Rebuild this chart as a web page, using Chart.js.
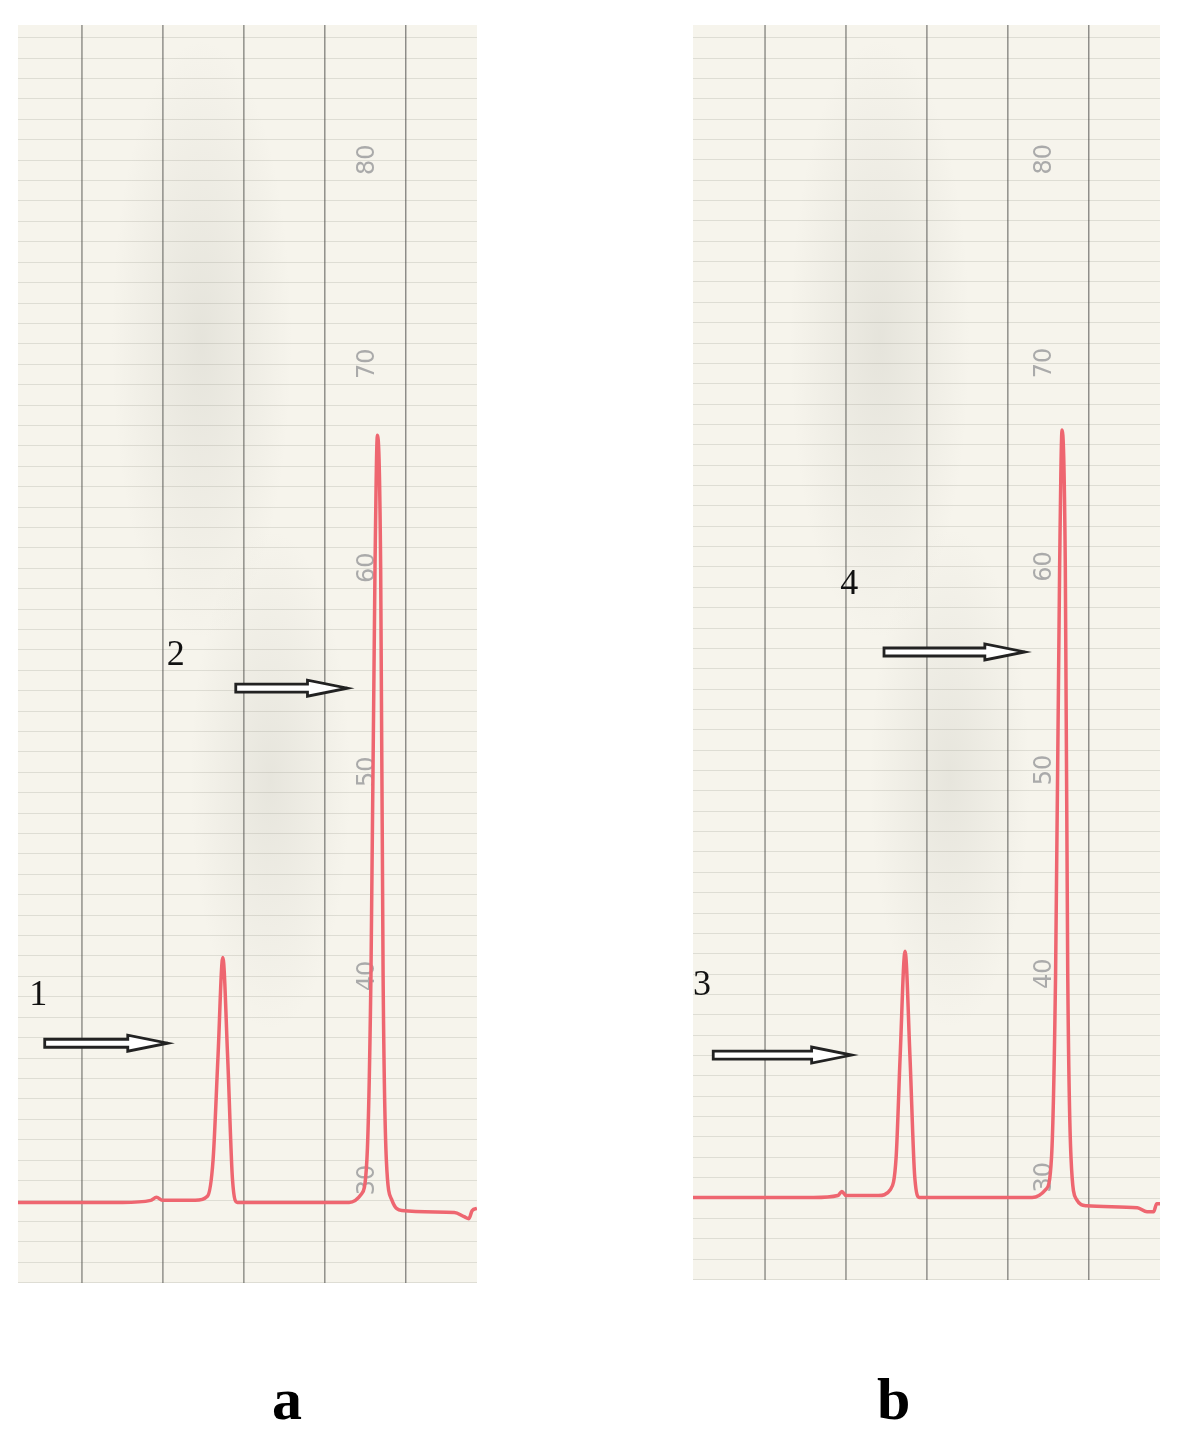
<!DOCTYPE html>
<html>
<head>
<meta charset="utf-8">
<script src="https://cdn.jsdelivr.net/npm/chart.js@4"></script>
<style>
  body { margin:0; background:#fff; width:1180px; height:1452px; position:relative; font-family:"Liberation Serif", serif; }
  .panel { position:absolute; top:25px; height:1258px;
    background:
      radial-gradient(ellipse 90px 300px at 40% 25%, rgba(170,170,160,0.22), transparent),
      radial-gradient(ellipse 80px 250px at 55% 60%, rgba(170,170,160,0.2), transparent),
      #f6f4ec; }
  #pa { left:18px; width:459px; }
  #pb { left:693px; width:467px; height:1255px; }
  .lbl { position:absolute; top:1365px; font-weight:bold; font-size:60px; }
</style>
</head>
<body>
<div class="panel" id="pa"><canvas id="ca"></canvas></div>
<div class="panel" id="pb"><canvas id="cb"></canvas></div>
<div class="lbl" style="left:272px">a</div>
<div class="lbl" style="left:877px">b</div>
<script>
// trace a (x in chart divisions, y in recorder units)
const traceA = [
  [-0.79,28.9],[0.5,28.9],[0.85,29.0],[0.92,29.15],[1.0,29.0],[1.4,29.0],[1.55,29.2],[1.62,31],[1.68,36],[1.74,40.9],
  [1.80,36],[1.86,30],[1.92,28.9],[3.3,28.9],[3.45,29.3],[3.52,31],[3.57,40],[3.62,60],[3.65,66.5],
  [3.69,60],[3.72,40],[3.76,31],[3.83,29],[3.95,28.5],[4.6,28.4],[4.72,28.2],[4.78,28.1],[4.82,28.5],[4.88,28.6]
];
const traceB = [
  [-0.89,29.0],[0.6,29.0],[0.9,29.1],[0.95,29.3],[1.0,29.1],[1.4,29.1],[1.55,29.4],[1.62,31],[1.67,36],[1.73,41.1],
  [1.79,36],[1.85,30],[1.91,29.0],[3.3,29.0],[3.47,29.4],[3.54,31],[3.59,40],[3.64,60],[3.67,66.7],
  [3.71,60],[3.74,40],[3.78,31],[3.85,28.9],[3.97,28.6],[4.6,28.5],[4.72,28.3],[4.8,28.3],[4.84,28.7],[4.9,28.7]
];
const timeMarks = [30, 40, 50, 60, 70, 80];
// arrows: [x0, x1, y], peak numbers: [text, x, y]
const arrowsA = [[-0.46, 1.06, 36.7], [1.9, 3.28, 54.1]];
const arrowsB = [[-0.64, 1.07, 36.0], [1.47, 3.21, 55.8]];
const numsA = [["1", -0.54, 39.05], ["2", 1.16, 55.7]];
const numsB = [["3", -0.78, 39.4], ["4", 1.04, 59.1]];

const paper = {
  id: 'paper',
  beforeDatasetsDraw(chart, args, o) {
    const {ctx, chartArea: a, scales: {x, y}} = chart;
    ctx.save();
    ctx.strokeStyle = 'rgba(150,150,140,0.25)'; ctx.lineWidth = 1;
    for (let v = Math.ceil(y.min); v <= y.max; v++) {
      const py = Math.round(y.getPixelForValue(v)) + 0.5;
      ctx.beginPath(); ctx.moveTo(a.left, py); ctx.lineTo(a.right, py); ctx.stroke();
    }
    ctx.strokeStyle = 'rgba(90,90,85,0.75)'; ctx.lineWidth = 1.3;
    for (let v = 0; v <= 4; v++) {
      const px = x.getPixelForValue(v);
      ctx.beginPath(); ctx.moveTo(px, a.top); ctx.lineTo(px, a.bottom); ctx.stroke();
    }
    ctx.fillStyle = '#aaa'; ctx.font = '24px "DejaVu Sans"';
    ctx.textAlign = 'center'; ctx.textBaseline = 'middle';
    timeMarks.forEach(t => {
      ctx.save();
      ctx.translate(x.getPixelForValue(o.markX), y.getPixelForValue(t));
      ctx.rotate(-Math.PI / 2);
      ctx.fillText(String(t), 0, 0);
      ctx.restore();
    });
    ctx.restore();
  },
  afterDatasetsDraw(chart, args, o) {
    const {ctx, scales: {x, y}} = chart;
    ctx.save();
    o.arrows.forEach(([x0, x1, v]) => {
      const a = x.getPixelForValue(x0), b = x.getPixelForValue(x1), py = y.getPixelForValue(v);
      const hl = 40;
      ctx.beginPath();
      ctx.moveTo(a, py - 4); ctx.lineTo(b - hl, py - 4); ctx.lineTo(b - hl, py - 8);
      ctx.lineTo(b, py); ctx.lineTo(b - hl, py + 8); ctx.lineTo(b - hl, py + 4);
      ctx.lineTo(a, py + 4); ctx.closePath();
      ctx.fillStyle = '#fff'; ctx.fill();
      ctx.strokeStyle = '#222'; ctx.lineWidth = 2.8; ctx.stroke();
    });
    ctx.fillStyle = '#111'; ctx.font = '36px "Liberation Serif"';
    ctx.textAlign = 'center'; ctx.textBaseline = 'middle';
    o.nums.forEach(([t, nx, ny]) => ctx.fillText(t, x.getPixelForValue(nx), y.getPixelForValue(ny)));
    ctx.restore();
  }
};

function makeChart(id, trace, xmin, xmax, markX, arrows, nums) {
  new Chart(document.getElementById(id), {
    type: 'line',
    data: { datasets: [{
      data: trace.map(p => ({x: p[0], y: p[1]})),
      borderColor: '#ee6670', borderWidth: 3.5, pointRadius: 0,
      cubicInterpolationMode: 'monotone', fill: false
    }]},
    options: {
      responsive: true, maintainAspectRatio: false, animation: false,
      layout: { padding: 0 },
      plugins: { legend: {display: false}, tooltip: {enabled: false},
        paper: { markX, arrows, nums } },
      scales: {
        x: { type: 'linear', min: xmin, max: xmax, display: false },
        y: { min: 24.95, max: 86.6, display: false }
      }
    },
    plugins: [paper]
  });
}
makeChart('ca', traceA, -0.79, 4.88, 3.53, arrowsA, numsA);
makeChart('cb', traceB, -0.89, 4.88, 3.46, arrowsB, numsB);
</script>
</body>
</html>
